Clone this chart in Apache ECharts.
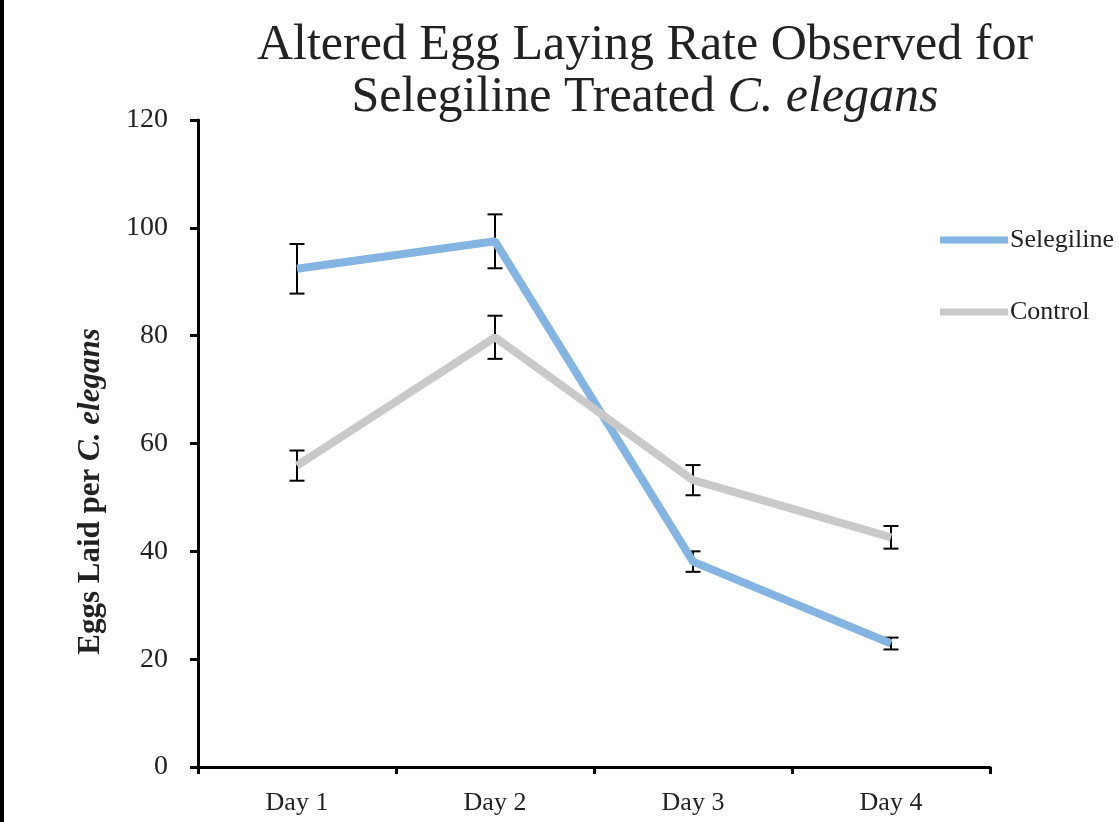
<!DOCTYPE html>
<html>
<head>
<meta charset="utf-8">
<script src="https://cdn.jsdelivr.net/npm/echarts@6/dist/echarts.min.js"></script>
<style>
  html, body { margin: 0; padding: 0; background: #fff; }
  #main { width: 1119px; height: 822px; }
</style>
</head>
<body>
<div id="main"></div>
<script>
// ---- data ----
const categories = ['Day 1', 'Day 2', 'Day 3', 'Day 4'];
const selegiline = [92.4, 97.5, 38.1, 22.9];
const selegilineErr = [4.6, 5.0, 1.9, 1.1];
const control = [55.9, 79.7, 53.2, 42.6];
const controlErr = [2.8, 4.0, 2.8, 2.1];
const yTicks = [0, 20, 40, 60, 80, 100, 120];

const FONT = 'Liberation Serif';
const BLUE = '#84b4e1';
const GRAY = '#c9c9c9';

function errData(vals, errs) {
  return vals.map((v, i) => [i, v, errs[i]]);
}
function renderErr(params, api) {
  const i = api.value(0), v = api.value(1), e = api.value(2);
  const hi = api.coord([i, v + e]);
  const lo = api.coord([i, v - e]);
  const w = 7.5;
  const st = { stroke: '#000', lineWidth: 2 };
  return {
    type: 'group',
    children: [
      { type: 'line', shape: { x1: hi[0], y1: hi[1], x2: lo[0], y2: lo[1] }, style: st },
      { type: 'line', shape: { x1: hi[0] - w, y1: hi[1], x2: hi[0] + w, y2: hi[1] }, style: st },
      { type: 'line', shape: { x1: lo[0] - w, y1: lo[1], x2: lo[0] + w, y2: lo[1] }, style: st }
    ]
  };
}

const chart = echarts.init(document.getElementById('main'), null, { renderer: 'canvas' });
chart.setOption({
  backgroundColor: '#fff',
  animation: false,
  graphic: [{
    type: 'rect', left: 0, top: 0, z: 100,
    shape: { width: 4, height: 822 }, style: { fill: '#000' }
  }],
  title: {
    text: '{n|Altered Egg Laying Rate Observed for}\n{n|Selegiline Treated }{i|C. elegans}',
    left: 645, top: 20, padding: 0, textAlign: 'center',
    textStyle: {
      fontWeight: 'normal',
      rich: {
        n: { fontFamily: FONT, fontSize: 50, lineHeight: 52, color: '#222', fontWeight: 'normal' },
        i: { fontFamily: FONT, fontSize: 50, lineHeight: 52, color: '#222', fontWeight: 'normal', fontStyle: 'italic' }
      }
    }
  },
  legend: {
    orient: 'vertical', left: 940, top: 227, padding: 0,
    itemWidth: 68, itemHeight: 7, itemGap: 46, icon: 'rect',
    textStyle: { fontFamily: FONT, fontSize: 26, color: '#222', padding: [0, 0, 0, -3] },
    data: ['Selegiline', 'Control']
  },
  grid: { left: 198, right: 129, top: 120, bottom: 55, containLabel: false },
  xAxis: {
    type: 'category', data: categories, boundaryGap: true,
    axisLine: { lineStyle: { color: '#000', width: 3 } },
    axisTick: { show: true, length: 7, lineStyle: { color: '#000', width: 3 } },
    axisLabel: { fontFamily: FONT, fontSize: 26, color: '#222', margin: 23 },
    splitLine: { show: false }
  },
  yAxis: {
    type: 'value', min: yTicks[0], max: yTicks[yTicks.length - 1], interval: yTicks[1] - yTicks[0],
    name: '{b|Eggs Laid per }{bi|C. elegans}',
    nameLocation: 'middle', nameGap: 92,
    nameTextStyle: {
      padding: [0, 96, 0, 0],
      rich: {
        b: { fontFamily: FONT, fontSize: 31, fontWeight: 'bold', color: '#222' },
        bi: { fontFamily: FONT, fontSize: 31, fontWeight: 'bold', fontStyle: 'italic', color: '#222' }
      }
    },
    axisLine: { show: true, lineStyle: { color: '#000', width: 3 } },
    axisTick: { show: true, length: 8, lineStyle: { color: '#000', width: 3 } },
    axisLabel: { fontFamily: FONT, fontSize: 28, color: '#222', margin: 30 },
    splitLine: { show: false }
  },
  series: [
    {
      name: 'Selegiline', type: 'line', data: selegiline, symbol: 'none',
      lineStyle: { color: BLUE, width: 8 }, itemStyle: { color: BLUE }, z: 3
    },
    {
      name: 'Control', type: 'line', data: control, symbol: 'none',
      lineStyle: { color: GRAY, width: 8 }, itemStyle: { color: GRAY }, z: 4
    },
    {
      name: 'Selegiline err', type: 'custom', renderItem: renderErr,
      data: errData(selegiline, selegilineErr), z: 1, silent: true
    },
    {
      name: 'Control err', type: 'custom', renderItem: renderErr,
      data: errData(control, controlErr), z: 1, silent: true
    }
  ]
});
</script>
</body>
</html>
